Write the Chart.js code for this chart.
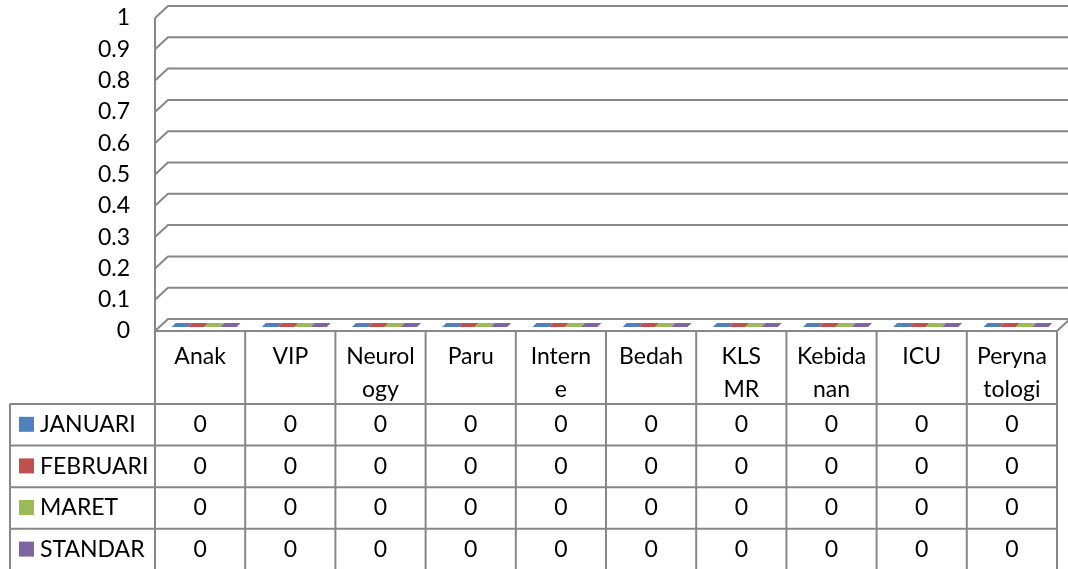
<!DOCTYPE html>
<html>
<head>
<meta charset="utf-8">
<script src="https://cdn.jsdelivr.net/npm/chart.js@4.4.1/dist/chart.umd.min.js"></script>
<style>
  html, body { margin: 0; padding: 0; background: #fff; }
  #wrap { width: 1068px; height: 569px; position: relative; }
</style>
</head>
<body>
<div id="wrap"><canvas id="chart"></canvas></div>
<script>
// wards (x categories, already wrapped the way the table shows them)
const categories = ['Anak', 'VIP', ['Neurol', 'ogy'], 'Paru', ['Intern', 'e'], 'Bedah', ['KLS', 'MR'], ['Kebida', 'nan'], 'ICU', ['Peryna', 'tologi']];
const seriesNames = ['JANUARI', 'FEBRUARI', 'MARET', 'STANDAR'];
const januari  = [0, 0, 0, 0, 0, 0, 0, 0, 0, 0];
const februari = [0, 0, 0, 0, 0, 0, 0, 0, 0, 0];
const maret    = [0, 0, 0, 0, 0, 0, 0, 0, 0, 0];
const standar  = [0, 0, 0, 0, 0, 0, 0, 0, 0, 0];
const seriesColors = ['#4F81BD', '#C0504D', '#9BBB59', '#8064A2'];

const FONT = 'Lato, "Open Sans", sans-serif';
const FONT_SIZE = 23;
const LINE = '#878787';
const DX = 13, DY = 12;   // depth of the 3d box

function line(ctx, x1, y1, x2, y2) {
    ctx.beginPath();
    ctx.moveTo(x1, y1);
    ctx.lineTo(x2, y2);
    ctx.stroke();
}

const box3d = {
    id: 'box3d',
    beforeDatasetsDraw(chart) {
        const { ctx, chartArea: a, scales: { y } } = chart;
        ctx.save();
        ctx.strokeStyle = LINE;
        ctx.lineWidth = 2;
        line(ctx, a.left, a.top, a.left, a.bottom);
        // side wall + back wall gridlines
        y.ticks.forEach(t => {
            const py = y.getPixelForValue(t.value);
            ctx.beginPath();
            ctx.moveTo(a.left, py);
            ctx.lineTo(a.left + DX, py - DY);
            ctx.lineTo(chart.width + 5, py - DY);
            ctx.stroke();
        });
        // floor right edge
        line(ctx, a.right, a.bottom, a.right + DX, a.bottom - DY);
        ctx.restore();
    },
    afterDatasetsDraw(chart) {
        // zero height columns: only the top face shows, lying on the floor
        const { ctx, scales: { y } } = chart;
        ctx.save();
        chart.data.datasets.forEach((ds, i) => {
            chart.getDatasetMeta(i).data.forEach((bar, j) => {
                const top = y.getPixelForValue(ds.data[j]);
                const x0 = bar.x - bar.width / 2;
                const w = bar.width;
                ctx.fillStyle = ds.backgroundColor;
                ctx.beginPath();
                ctx.moveTo(x0 + 4, top - 4);
                ctx.lineTo(x0 + w + 4, top - 4);
                ctx.lineTo(x0 + w + 8, top - 8);
                ctx.lineTo(x0 + 8, top - 8);
                ctx.closePath();
                ctx.fill();
            });
        });
        ctx.restore();
    },
    afterDraw(chart) {
        // data table under the plot
        const { ctx, chartArea: a, scales: { x } } = chart;
        const colW = (a.right - a.left) / categories.length;
        const headTop = a.bottom;
        const rowTop = 404, rowH = 41.6, labelLeft = 10;
        const bottom = chart.height + 2;

        ctx.save();
        ctx.strokeStyle = LINE;
        ctx.lineWidth = 2;
        line(ctx, a.left, headTop, a.right, headTop);
        seriesNames.forEach((s, r) => line(ctx, labelLeft, rowTop + r * rowH, a.right, rowTop + r * rowH));
        line(ctx, labelLeft, rowTop, labelLeft, bottom);
        for (let c = 0; c <= categories.length; c++) {
            line(ctx, a.left + c * colW, headTop, a.left + c * colW, bottom);
        }

        ctx.fillStyle = '#000';
        ctx.font = FONT_SIZE + 'px ' + FONT;
        ctx.textBaseline = 'middle';
        ctx.textAlign = 'center';
        categories.forEach((cat, c) => {
            const lines = Array.isArray(cat) ? cat : [cat];
            const cx = x.getPixelForValue(c);
            lines.forEach((t, k) => ctx.fillText(t, cx, 357 + k * 33));
        });

        chart.data.datasets.forEach((ds, r) => {
            const cy = rowTop + r * rowH + rowH / 2;
            ctx.fillStyle = ds.backgroundColor;
            ctx.fillRect(19, cy - 8, 15, 15);
            ctx.fillStyle = '#000';
            ctx.textAlign = 'left';
            ctx.fillText(ds.label, 40, cy);
            ctx.textAlign = 'center';
            ds.data.forEach((v, c) => ctx.fillText(String(v), x.getPixelForValue(c), cy));
        });
        ctx.restore();
    }
};

const series = [januari, februari, maret, standar];

new Chart(document.getElementById('chart'), {
    type: 'bar',
    data: {
        labels: categories,
        datasets: series.map((d, i) => ({
            label: seriesNames[i],
            data: d,
            backgroundColor: seriesColors[i],
            borderWidth: 0
        }))
    },
    options: {
        responsive: true,
        maintainAspectRatio: false,
        animation: false,
        layout: { padding: { left: 0, top: 18, right: 11, bottom: 238 } },
        datasets: { bar: { categoryPercentage: 0.72, barPercentage: 1 } },
        plugins: { legend: { display: false }, tooltip: { enabled: false } },
        scales: {
            x: { display: false },
            y: {
                min: 0,
                max: 1,
                ticks: {
                    stepSize: 0.1,
                    padding: 25,
                    color: '#000',
                    font: { family: FONT, size: FONT_SIZE },
                    callback: v => String(Math.round(v * 10) / 10)
                },
                grid: { display: false, drawTicks: false },
                border: { display: false },
                afterFit(scale) {
                    scale.width = 155;
                    scale.paddingTop = 0;
                    scale.paddingBottom = 0;
                }
            }
        }
    },
    plugins: [box3d]
});
</script>
</body>
</html>
